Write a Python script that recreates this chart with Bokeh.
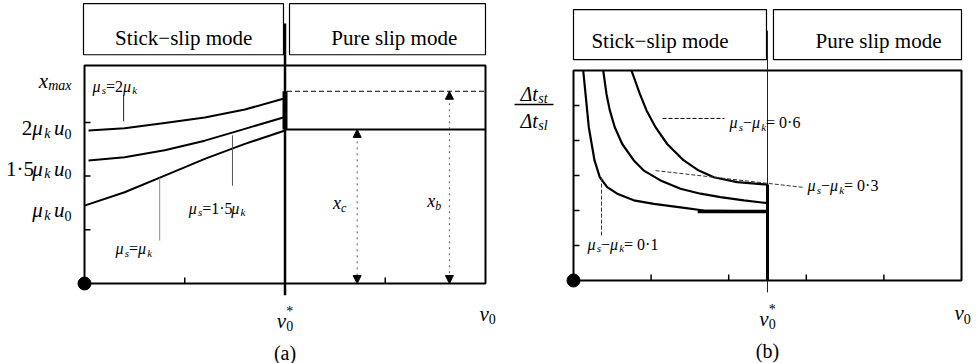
from bokeh.plotting import figure
from bokeh.layouts import row
from bokeh.models import Range1d, Arrow, NormalHead
from bokeh.core.properties import value
from bokeh.embed import file_html
from bokeh.resources import INLINE

FONT = "'Liberation Serif', 'Times New Roman', serif"

# ---------------- panel (a): amplitude versus belt speed ----------------
a_v_star = 2.0          # critical belt speed v0*
a_v_end = 4.0
a_x_top = 4.06          # x_max level (top of frame)
a_xticks = [1, 3]
a_yticks = [1, 2, 3]

a_v = [0.04, 0.40, 0.80, 1.20, 1.60, 2.00]
a_x_mu2 = [2.85, 2.89, 2.99, 3.09, 3.24, 3.45]     # mu_s = 2 mu_k
a_x_mu15 = [2.29, 2.35, 2.48, 2.66, 2.88, 3.10]    # mu_s = 1.5 mu_k
a_v_mu1 = [0.00, 0.40, 0.80, 1.20, 1.60, 2.00]
a_x_mu1 = [1.45, 1.70, 2.01, 2.32, 2.60, 2.85]     # mu_s = mu_k
a_x_c = 2.87            # amplitude in pure slip
a_x_b = 3.58            # amplitude bound

# ---------------- panel (b): stick/slip time ratio ----------------
b_v_star = 2.5
b_v_end = 5.0
b_t_top = 6.0
b_xticks = [1, 2, 3, 4]
b_yticks = [1, 2, 3, 4, 5]
b_diff_labels = ["0·1", "0·3", "0·6"]

b_v_01 = [0.125, 0.155, 0.197, 0.271, 0.339, 0.434, 0.563, 0.777, 1.035, 1.379, 1.679, 2.5]
b_r_01 = [6.00, 5.33, 4.38, 3.43, 2.95, 2.67, 2.48, 2.29, 2.19, 2.09, 2.00, 1.97]
b_v_03 = [0.383, 0.425, 0.468, 0.532, 0.628, 0.777, 0.906, 1.121, 1.379, 1.637, 1.894, 2.195, 2.5]
b_r_03 = [6.00, 5.33, 4.86, 4.38, 3.90, 3.43, 3.14, 2.86, 2.62, 2.48, 2.38, 2.29, 2.21]
b_v_06 = [0.747, 0.855, 0.941, 1.057, 1.207, 1.421, 1.615, 1.808, 2.11, 2.5]
b_r_06 = [6.00, 5.33, 4.86, 4.38, 3.90, 3.43, 3.14, 2.95, 2.81, 2.74]

# ---------------- text helpers ----------------
REG = {c: 0.5 for c in "0123456789*"}
REG.update({"(": 0.333, ")": 0.333, "a": 0.444, "b": 0.5, "·": 0.25,
            "=": 0.564, "−": 0.564, " ": 0.25})
ITA = {"x": 0.444, "v": 0.444, "u": 0.5, "μ": 0.576, "k": 0.444, "s": 0.389,
       "m": 0.722, "a": 0.5, "c": 0.444, "b": 0.5, "t": 0.278, "l": 0.278,
       "Δ": 0.611, " ": 0.25}


def rich(p, ppx, ppy, x, y, parts, size, align="left", color="black"):
    """Draw a run of text pieces (italic, subscript, superscript) on one baseline."""
    sub = round(size * 0.68)
    items, cursor = [], 0.0
    for part in parts:
        text, ital, shift = part[:3]
        adv = part[3] if len(part) > 3 else True
        fs = size if shift == "" else sub
        dy = {"": 0.0, "sub": 0.25 * size, "sup": -0.42 * size}[shift]
        w = sum((ITA if ital else REG).get(ch, 0.5) for ch in text) * fs
        items.append((text, ital, fs, cursor, dy))
        if adv:
            cursor += w
    start = {"left": 0.0, "right": -cursor, "center": -cursor / 2}[align]
    for text, ital, fs, cx, dy in items:
        p.text(x=[x + (start + cx) / ppx], y=[y - dy / ppy], text=[text],
               text_font=value(FONT), text_font_size=f"{fs}px",
               text_font_style="italic" if ital else "normal",
               text_align="left", text_baseline="alphabetic", text_color=color)


def make_fig(width, ox, oy, ppx, ppy):
    p = figure(width=width, height=363, title=None,
               x_range=Range1d(-ox / ppx, (width - ox) / ppx),
               y_range=Range1d(-(363 - oy) / ppy, oy / ppy),
               x_axis_type=None, y_axis_type=None,
               output_backend="svg", toolbar_location=None,
               min_border=0, min_border_left=0, min_border_right=0,
               min_border_top=0, min_border_bottom=0)
    p.outline_line_color = None
    p.background_fill_color = "white"
    p.border_fill_color = "white"
    return p


def frame(p, xmax, ymax, ppx, ppy, xticks, yticks, lw=2):
    p.line([0, xmax, xmax, 0, 0], [0, 0, ymax, ymax, 0], line_color="black", line_width=lw)
    tl = 6
    p.segment(x0=xticks, y0=[0] * len(xticks), x1=xticks, y1=[tl / ppy] * len(xticks),
              line_color="black", line_width=1.5)
    p.segment(x0=[0] * len(yticks), y0=yticks, x1=[tl / ppx] * len(yticks), y1=yticks,
              line_color="black", line_width=1.5)
    p.scatter([0], [0], size=13, color="black")


def header(p, l1, r1, l2, r2, bot, top, c1, c2, base):
    p.quad(left=[l1, l2], right=[r1, r2], bottom=[bot, bot], top=[top, top],
           fill_color="white", line_color="black", line_width=1.2)
    for cx, txt in ((c1, "Stick−slip mode"), (c2, "Pure slip mode")):
        p.text(x=[cx], y=[base], text=[txt], text_font=value(FONT),
               text_font_size="21px", text_align="center",
               text_baseline="alphabetic", text_color="black")


def mu_pair(op):
    return [("μ", True, ""), ("s", True, "sub"), (op, False, ""),
            ("μ", True, ""), ("k", True, "sub")]


# ======================= panel (a) =======================
PXA, PYA = 100.25, 53.7
WA = 500
pa = make_fig(WA, 84, 283, PXA, PYA)

header(pa, -0.01, 1.985, 2.045, 4.0, 4.26, 5.21, 0.99, 3.09, 4.58)
frame(pa, a_v_end, a_x_top, PXA, PYA, a_xticks, a_yticks)

# critical speed line
pa.line([a_v_star, a_v_star], [-0.22, 4.84], line_color="black", line_width=2.5)
# amplitude curves in stick-slip
for xs, ys in ((a_v, a_x_mu2), (a_v, a_x_mu15), (a_v_mu1, a_x_mu1)):
    pa.line(xs, ys, line_color="black", line_width=2)
# jump at v0* and pure-slip levels
pa.line([a_v_star, a_v_star], [a_x_c, a_x_b], line_color="black", line_width=5)
pa.line([a_v_star, a_v_end], [a_x_c, a_x_c], line_color="black", line_width=2)
pa.line([a_v_star + 0.02, a_v_end], [a_x_b, a_x_b], line_color="black",
        line_width=1, line_dash="5 3")

for xv, top in ((2.72, a_x_c), (3.64, a_x_b)):
    pa.add_layout(Arrow(
        start=NormalHead(size=8, fill_color="black", line_color="black", line_width=1),
        end=NormalHead(size=8, fill_color="black", line_color="black", line_width=1),
        x_start=xv, y_start=top, x_end=xv, y_end=0,
        line_color="#555555", line_width=1, line_dash="dotted"))

# leader lines to the curve labels
pa.segment(x0=[0.39, 1.476, 0.75], y0=[3.50, 2.76, 1.97],
           x1=[0.39, 1.476, 0.75], y1=[3.02, 1.82, 0.80],
           line_color=["#222222", "#555555", "#888888"], line_width=1)

rich(pa, PXA, PYA, 0.08, 3.67, mu_pair("=")[:3] + [("2", False, "")] + mu_pair("=")[3:], 16)
rich(pa, PXA, PYA, 1.04, 1.40, mu_pair("=")[:3] + [("1·5", False, "")] + mu_pair("=")[3:], 16)
rich(pa, PXA, PYA, 0.31, 0.65, mu_pair("="), 16)
rich(pa, PXA, PYA, 2.48, 1.49, [("x", True, ""), ("c", True, "sub")], 18)
rich(pa, PXA, PYA, 3.42, 1.53, [("x", True, ""), ("b", True, "sub")], 18)

# vertical-axis labels
ylab_x = -0.13
rich(pa, PXA, PYA, ylab_x, 3.78, [("x", True, ""), ("max", True, "sub")], 21, "right")
mu_u = [("μ", True, ""), ("k", True, "sub"), (" ", False, "sub"),
        ("u", True, ""), ("0", False, "sub")]
rich(pa, PXA, PYA, ylab_x, 2.89, [("2", False, "")] + mu_u, 21, "right")
rich(pa, PXA, PYA, ylab_x, 2.14, [("1·5", False, "")] + mu_u, 21, "right")
rich(pa, PXA, PYA, ylab_x, 1.36, mu_u, 21, "right")

# horizontal-axis labels
rich(pa, PXA, PYA, a_v_star, -0.69,
     [("v", True, ""), ("0", False, "sub", False), ("*", False, "sup")], 21, "center")
rich(pa, PXA, PYA, 3.94, -0.56, [("v", True, ""), ("0", False, "sub")], 21)
rich(pa, PXA, PYA, a_v_star, -1.29, [("(a)", False, "")], 20, "center")

# ======================= panel (b) =======================
PXB, PYB = 77.6, 35.0
pb = make_fig(977 - WA, 573 - WA, 280, PXB, PYB)

header(pb, 0.0, 2.487, 2.577, 5.0, 6.31, 7.74, 1.115, 3.93, 6.83)
frame(pb, b_v_end, b_t_top, PXB, PYB, b_xticks, b_yticks)

pb.line([b_v_star, b_v_star], [-0.34, 7.14], line_color="#222222", line_width=1)
for xs, ys in ((b_v_01, b_r_01), (b_v_03, b_r_03), (b_v_06, b_r_06)):
    pb.line(xs, ys, line_color="black", line_width=2.2)
pb.line([b_v_star, b_v_star], [0, b_r_06[-1]], line_color="black", line_width=3)
pb.line([1.6, b_v_star], [b_r_01[-1], b_r_01[-1]], line_color="black", line_width=3.5)

# dashed leaders to the curve labels
pb.line([1.147, 1.946], [4.63, 4.63], line_color="black", line_width=1, line_dash="4 2")
pb.line([1.057, 2.964], [3.14, 2.66], line_color="#333333", line_width=1, line_dash="4 2")
pb.line([0.361, 0.361], [2.94, 1.29], line_color="#333333", line_width=1, line_dash="4 2")

for (lx, ly), lab in zip(((0.18, 1.03), (3.015, 2.71), (2.01, 4.51)), b_diff_labels):
    rich(pb, PXB, PYB, lx, ly, mu_pair("−") + [(" = " + lab, False, "")], 16)

# ratio label as a fraction
frac_x = -0.509
rich(pb, PXB, PYB, frac_x, 5.34, [("Δt", True, ""), ("st", True, "sub")], 20, "center")
pb.line([-0.76, -0.258], [5.03, 5.03], line_color="black", line_width=1.5)
rich(pb, PXB, PYB, frac_x, 4.57, [("Δt", True, ""), ("sl", True, "sub")], 20, "center")

rich(pb, PXB, PYB, b_v_star, -1.09,
     [("v", True, ""), ("0", False, "sub", False), ("*", False, "sup")], 21, "center")
rich(pb, PXB, PYB, 4.91, -0.94, [("v", True, ""), ("0", False, "sub")], 21)
rich(pb, PXB, PYB, b_v_star, -2.02, [("(b)", False, "")], 20, "center")

layout = row(pa, pb, spacing=0)
open("out.html", "w").write(file_html(layout, INLINE))
